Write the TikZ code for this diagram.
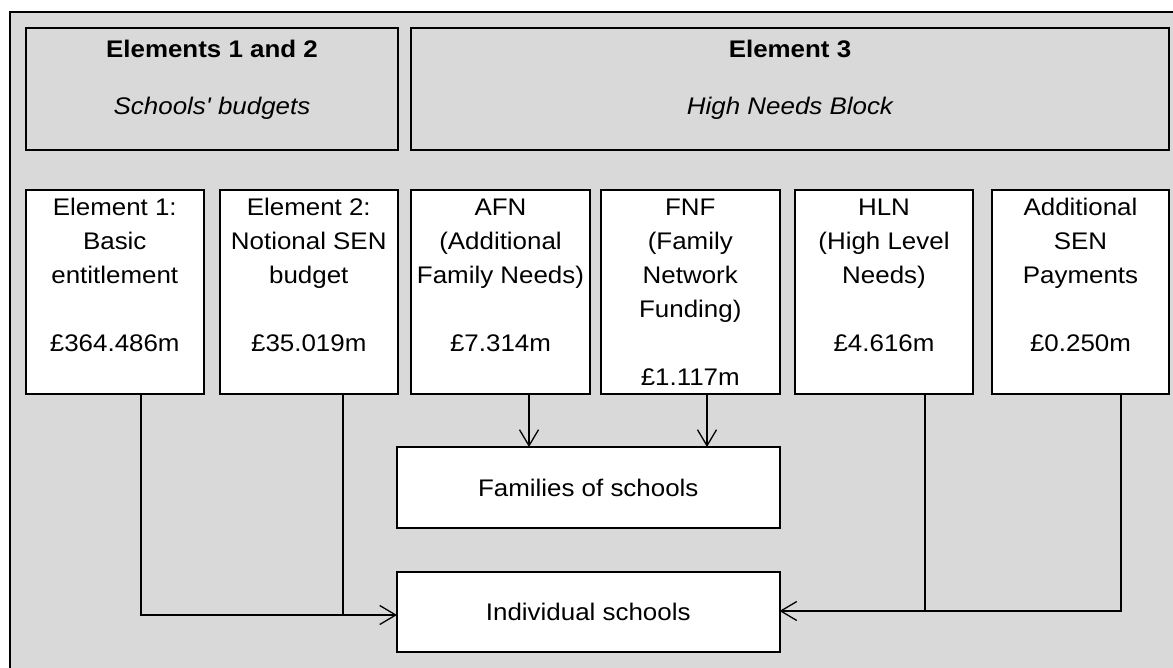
\documentclass[tikz,border=0pt]{standalone}
\usepackage{fontspec}
\setmainfont{Liberation Sans}[FakeStretch=1.08,Ligatures=TeXOff]
\usetikzlibrary{arrows.meta}
\definecolor{panel}{RGB}{217,217,217}
\begin{document}
\begin{tikzpicture}[x=1pt,y=-1pt,
  frame/.style={draw=black,fill=panel,line width=2pt},
  headbox/.style={draw=black,fill=panel,line width=2pt,outer sep=0pt,inner sep=0pt,minimum height=121.5pt},
  rowbox/.style={draw=black,fill=white,line width=2pt,outer sep=0pt,inner sep=0pt,minimum height=203.5pt},
  sinkbox/.style={draw=black,fill=white,line width=2pt,outer sep=0pt,inner sep=0pt,minimum width=382.5pt,
    font=\fontsize{24}{34}\selectfont},
  rowtext/.style={anchor=north,inner sep=0pt,align=center,font=\fontsize{24}{34}\selectfont},
  headtext/.style={anchor=base,inner sep=0pt,font=\fontsize{24}{34}\selectfont},
  conn/.style={line width=1.3pt},
  arr/.style={conn,-{Straight Barb[length=16pt,width=19pt]}}]
\useasboundingbox (0,0) rectangle (1173,668);
\fill[white] (0,0) rectangle (1173,668);
% outer panel, running off the right and bottom edges
\begin{scope}
  \clip (0,0) rectangle (1173,668);
  \draw[frame] (10,12.5) rectangle (1190,690);
\end{scope}

% heading blocks
\node[headbox,minimum width=372pt] (h1) at (212,89.25) {};
\node[headbox,minimum width=758pt] (h2) at (790,89.25) {};
\node[headtext] (h1a) at (212,58) {\bfseries Elements 1 and 2};
\node[headtext] (h1b) at (212,115) {\itshape Schools' budgets};
\node[headtext] (h2a) at (790,58) {\bfseries Element 3};
\node[headtext] (h2b) at (790,115) {\itshape High Needs Block};

% funding streams
\node[rowbox,minimum width=178.5pt] (b1) at (114.75,291.75) {};
\node[rowbox,minimum width=178.5pt] (b2) at (308.75,291.75) {};
\node[rowbox,minimum width=179pt]   (b3) at (500.5,291.75) {};
\node[rowbox,minimum width=178.5pt] (b4) at (690.25,291.75) {};
\node[rowbox,minimum width=178pt]   (b5) at (884,291.75) {};
\node[rowbox,minimum width=177pt]   (b6) at (1080.5,291.75) {};

\node[rowtext] (b1t) at ([yshift=-7pt]b1.north) {\rule{0pt}{18pt}Element 1:\\Basic\\entitlement\\[34pt]£364.486m};
\node[rowtext] (b2t) at ([yshift=-7pt]b2.north) {\rule{0pt}{18pt}Element 2:\\Notional SEN\\budget\\[34pt]£35.019m};
\node[rowtext] (b3t) at ([yshift=-7pt]b3.north) {\rule{0pt}{18pt}AFN\\(Additional\\Family Needs)\\[34pt]£7.314m};
\node[rowtext] (b4t) at ([yshift=-7pt]b4.north) {\rule{0pt}{18pt}FNF\\(Family\\Network\\Funding)\\[34pt]£1.117m};
\node[rowtext] (b5t) at ([yshift=-7pt]b5.north) {\rule{0pt}{18pt}HLN\\(High Level\\Needs)\\[34pt]£4.616m};
\node[rowtext] (b6t) at ([yshift=-7pt]b6.north) {\rule{0pt}{18pt}Additional\\SEN\\Payments\\[34pt]£0.250m};

% recipients
\node[sinkbox,minimum height=81pt] (fam) at (588.25,487.5) {Families of schools};
\node[sinkbox,minimum height=80pt] (ind) at (588.25,612) {Individual schools};

% connector start points under each stream
\coordinate (b1o) at ([xshift=26.25pt]b1.south);
\coordinate (b2o) at ([xshift=34.25pt]b2.south);
\coordinate (b3o) at ([xshift=28.5pt]b3.south);
\coordinate (b4o) at ([xshift=16.75pt]b4.south);
\coordinate (b5o) at ([xshift=41pt]b5.south);
\coordinate (b6o) at ([xshift=40.5pt]b6.south);
\coordinate (levl) at ([yshift=-3pt]ind.west);
\coordinate (levr) at ([yshift=1pt]ind.east);

% flows
\draw[arr] (b3o) -- (b3o |- fam.north);
\draw[arr] (b4o) -- (b4o |- fam.north);
\draw[arr] (b1o) |- (levl);
\draw[conn] (b2o) -- (b2o |- levl);
\draw[arr] (b6o) |- (levr);
\draw[conn] (b5o) -- (b5o |- levr);
\end{tikzpicture}
\end{document}
